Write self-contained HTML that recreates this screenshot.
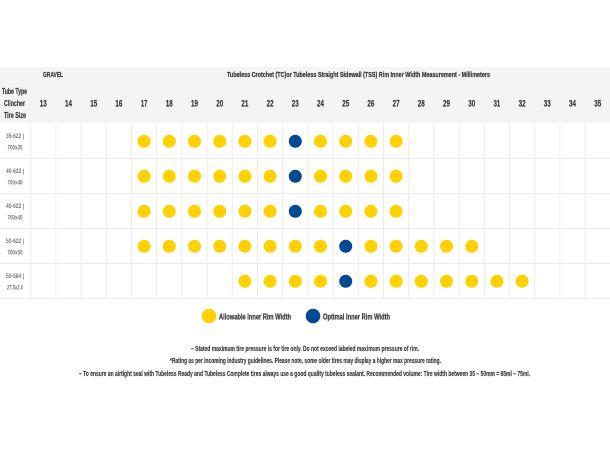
<!DOCTYPE html>
<html>
<head>
<meta charset="utf-8">
<style>
  html,body{margin:0;padding:0;background:#fff;}
  svg{display:block;}
  text{font-family:"Liberation Sans Narrow","Liberation Sans",sans-serif;font-weight:bold;}
  .hv{stroke:#3a3a3a;stroke-width:0.25;}
</style>
</head>
<body>
<svg width="610" height="450" viewBox="0 0 610 450" xmlns="http://www.w3.org/2000/svg">
  <rect x="0" y="0" width="610" height="450" fill="#ffffff"/>
  <!-- header band -->
  <rect x="0" y="67" width="610" height="56" fill="#f4f4f4"/>

  <!-- header texts -->
  <text class="hv" x="43" y="77" font-size="7.5" fill="#3a3a3a" textLength="20" lengthAdjust="spacingAndGlyphs">GRAVEL</text>
  <text class="hv" x="227" y="77" font-size="7.5" fill="#3a3a3a" textLength="263" lengthAdjust="spacingAndGlyphs">Tubeless Crotchet (TC)or Tubeless Straight Sidewall (TSS) Rim Inner Width Measurement - Millimeters</text>

  <text class="hv" x="2" y="94" font-size="8.5" fill="#3a3a3a" textLength="25" lengthAdjust="spacingAndGlyphs">Tube Type</text>
  <text class="hv" x="4" y="106" font-size="8.5" fill="#3a3a3a" textLength="21" lengthAdjust="spacingAndGlyphs">Clincher</text>
  <text class="hv" x="4" y="118" font-size="8.5" fill="#3a3a3a" textLength="22" lengthAdjust="spacingAndGlyphs">Tire Size</text>

  <!-- column numbers -->
  <g class="hv" font-size="9" fill="#3a3a3a" text-anchor="middle">
    <text x="43.3" y="106.5" textLength="7" lengthAdjust="spacingAndGlyphs">13</text>
    <text x="68.5" y="106.5" textLength="7" lengthAdjust="spacingAndGlyphs">14</text>
    <text x="93.7" y="106.5" textLength="7" lengthAdjust="spacingAndGlyphs">15</text>
    <text x="118.9" y="106.5" textLength="7" lengthAdjust="spacingAndGlyphs">16</text>
    <text x="144.1" y="106.5" textLength="6.5" lengthAdjust="spacingAndGlyphs">17</text>
    <text x="169.3" y="106.5" textLength="7" lengthAdjust="spacingAndGlyphs">18</text>
    <text x="194.5" y="106.5" textLength="7" lengthAdjust="spacingAndGlyphs">19</text>
    <text x="219.7" y="106.5" textLength="7" lengthAdjust="spacingAndGlyphs">20</text>
    <text x="244.9" y="106.5" textLength="7" lengthAdjust="spacingAndGlyphs">21</text>
    <text x="270.1" y="106.5" textLength="7" lengthAdjust="spacingAndGlyphs">22</text>
    <text x="295.3" y="106.5" textLength="7" lengthAdjust="spacingAndGlyphs">23</text>
    <text x="320.5" y="106.5" textLength="7" lengthAdjust="spacingAndGlyphs">24</text>
    <text x="345.7" y="106.5" textLength="7" lengthAdjust="spacingAndGlyphs">25</text>
    <text x="370.9" y="106.5" textLength="7" lengthAdjust="spacingAndGlyphs">26</text>
    <text x="396.1" y="106.5" textLength="7" lengthAdjust="spacingAndGlyphs">27</text>
    <text x="421.3" y="106.5" textLength="7" lengthAdjust="spacingAndGlyphs">28</text>
    <text x="446.5" y="106.5" textLength="7" lengthAdjust="spacingAndGlyphs">29</text>
    <text x="471.7" y="106.5" textLength="7" lengthAdjust="spacingAndGlyphs">30</text>
    <text x="496.9" y="106.5" textLength="6.5" lengthAdjust="spacingAndGlyphs">31</text>
    <text x="522.1" y="106.5" textLength="7" lengthAdjust="spacingAndGlyphs">32</text>
    <text x="547.3" y="106.5" textLength="7" lengthAdjust="spacingAndGlyphs">33</text>
    <text x="572.5" y="106.5" textLength="7" lengthAdjust="spacingAndGlyphs">34</text>
    <text x="597.7" y="106.5" textLength="7" lengthAdjust="spacingAndGlyphs">35</text>
  </g>

  <!-- grid lines -->
  <g stroke="#ececec" stroke-width="1">
    <line x1="0" y1="158.5" x2="610" y2="158.5"/>
    <line x1="0" y1="193.5" x2="610" y2="193.5"/>
    <line x1="0" y1="228.5" x2="610" y2="228.5"/>
    <line x1="0" y1="263.5" x2="610" y2="263.5"/>
    <line x1="0" y1="298.5" x2="610" y2="298.5"/>
    <line x1="30.7" y1="123" x2="30.7" y2="298"/>
    <line x1="55.9" y1="123" x2="55.9" y2="298"/>
    <line x1="81.1" y1="123" x2="81.1" y2="298"/>
    <line x1="106.3" y1="123" x2="106.3" y2="298"/>
    <line x1="131.5" y1="123" x2="131.5" y2="298"/>
    <line x1="156.7" y1="123" x2="156.7" y2="298"/>
    <line x1="181.9" y1="123" x2="181.9" y2="298"/>
    <line x1="207.1" y1="123" x2="207.1" y2="298"/>
    <line x1="232.3" y1="123" x2="232.3" y2="298"/>
    <line x1="257.5" y1="123" x2="257.5" y2="298"/>
    <line x1="282.7" y1="123" x2="282.7" y2="298"/>
    <line x1="307.9" y1="123" x2="307.9" y2="298"/>
    <line x1="333.1" y1="123" x2="333.1" y2="298"/>
    <line x1="358.3" y1="123" x2="358.3" y2="298"/>
    <line x1="383.5" y1="123" x2="383.5" y2="298"/>
    <line x1="408.7" y1="123" x2="408.7" y2="298"/>
    <line x1="433.9" y1="123" x2="433.9" y2="298"/>
    <line x1="459.1" y1="123" x2="459.1" y2="298"/>
    <line x1="484.3" y1="123" x2="484.3" y2="298"/>
    <line x1="509.5" y1="123" x2="509.5" y2="298"/>
    <line x1="534.7" y1="123" x2="534.7" y2="298"/>
    <line x1="559.9" y1="123" x2="559.9" y2="298"/>
    <line x1="585.1" y1="123" x2="585.1" y2="298"/>
  </g>

  <!-- row labels -->
  <g font-size="6.5" fill="#777" text-anchor="middle" style="font-weight:normal">
    <text x="15" y="138" textLength="18" lengthAdjust="spacingAndGlyphs">35-622 |</text>
    <text x="15" y="149.5" textLength="15" lengthAdjust="spacingAndGlyphs">700x35</text>
    <text x="15" y="173" textLength="18" lengthAdjust="spacingAndGlyphs">40-622 |</text>
    <text x="15" y="184.5" textLength="15" lengthAdjust="spacingAndGlyphs">700x40</text>
    <text x="15" y="208" textLength="18" lengthAdjust="spacingAndGlyphs">45-622 |</text>
    <text x="15" y="219.5" textLength="15" lengthAdjust="spacingAndGlyphs">700x45</text>
    <text x="15" y="243" textLength="18" lengthAdjust="spacingAndGlyphs">50-622 |</text>
    <text x="15" y="254.5" textLength="15" lengthAdjust="spacingAndGlyphs">700x50</text>
    <text x="15" y="278" textLength="18" lengthAdjust="spacingAndGlyphs">50-584 |</text>
    <text x="15" y="289.5" textLength="16" lengthAdjust="spacingAndGlyphs">27.5x2.0</text>
  </g>

  <!-- dots -->
  <g fill="#ffd100">
    <circle cx="144.1" cy="141.3" r="6.5"/><circle cx="169.3" cy="141.3" r="6.5"/><circle cx="194.5" cy="141.3" r="6.5"/>
    <circle cx="219.7" cy="141.3" r="6.5"/><circle cx="244.9" cy="141.3" r="6.5"/><circle cx="270.1" cy="141.3" r="6.5"/>
    <circle cx="320.5" cy="141.3" r="6.5"/><circle cx="345.7" cy="141.3" r="6.5"/><circle cx="370.9" cy="141.3" r="6.5"/><circle cx="396.1" cy="141.3" r="6.5"/>
    <circle cx="144.1" cy="176.3" r="6.5"/><circle cx="169.3" cy="176.3" r="6.5"/><circle cx="194.5" cy="176.3" r="6.5"/>
    <circle cx="219.7" cy="176.3" r="6.5"/><circle cx="244.9" cy="176.3" r="6.5"/><circle cx="270.1" cy="176.3" r="6.5"/>
    <circle cx="320.5" cy="176.3" r="6.5"/><circle cx="345.7" cy="176.3" r="6.5"/><circle cx="370.9" cy="176.3" r="6.5"/><circle cx="396.1" cy="176.3" r="6.5"/>
    <circle cx="144.1" cy="211.3" r="6.5"/><circle cx="169.3" cy="211.3" r="6.5"/><circle cx="194.5" cy="211.3" r="6.5"/>
    <circle cx="219.7" cy="211.3" r="6.5"/><circle cx="244.9" cy="211.3" r="6.5"/><circle cx="270.1" cy="211.3" r="6.5"/>
    <circle cx="320.5" cy="211.3" r="6.5"/><circle cx="345.7" cy="211.3" r="6.5"/><circle cx="370.9" cy="211.3" r="6.5"/><circle cx="396.1" cy="211.3" r="6.5"/>
    <circle cx="144.1" cy="246.3" r="6.5"/><circle cx="169.3" cy="246.3" r="6.5"/><circle cx="194.5" cy="246.3" r="6.5"/>
    <circle cx="219.7" cy="246.3" r="6.5"/><circle cx="244.9" cy="246.3" r="6.5"/><circle cx="270.1" cy="246.3" r="6.5"/>
    <circle cx="295.3" cy="246.3" r="6.5"/><circle cx="320.5" cy="246.3" r="6.5"/>
    <circle cx="370.9" cy="246.3" r="6.5"/><circle cx="396.1" cy="246.3" r="6.5"/><circle cx="421.3" cy="246.3" r="6.5"/>
    <circle cx="446.5" cy="246.3" r="6.5"/><circle cx="471.7" cy="246.3" r="6.5"/>
    <circle cx="244.9" cy="281.3" r="6.5"/><circle cx="270.1" cy="281.3" r="6.5"/>
    <circle cx="295.3" cy="281.3" r="6.5"/><circle cx="320.5" cy="281.3" r="6.5"/>
    <circle cx="370.9" cy="281.3" r="6.5"/><circle cx="396.1" cy="281.3" r="6.5"/><circle cx="421.3" cy="281.3" r="6.5"/>
    <circle cx="446.5" cy="281.3" r="6.5"/><circle cx="471.7" cy="281.3" r="6.5"/><circle cx="496.9" cy="281.3" r="6.5"/><circle cx="522.1" cy="281.3" r="6.5"/>
  </g>
  <g fill="#004a94">
    <circle cx="295.3" cy="141.3" r="6.5"/>
    <circle cx="295.3" cy="176.3" r="6.5"/>
    <circle cx="295.3" cy="211.3" r="6.5"/>
    <circle cx="345.7" cy="246.3" r="6.5"/>
    <circle cx="345.7" cy="281.3" r="6.5"/>
  </g>

  <!-- legend -->
  <circle cx="209" cy="316" r="7.3" fill="#ffd100"/>
  <text class="hv" x="219" y="319.3" font-size="8.5" fill="#3a3a3a" textLength="72" lengthAdjust="spacingAndGlyphs">Allowable Inner Rim Width</text>
  <circle cx="313" cy="316" r="7.3" fill="#004a94"/>
  <text class="hv" x="323" y="319.3" font-size="8.5" fill="#3a3a3a" textLength="67" lengthAdjust="spacingAndGlyphs">Optimal Inner Rim Width</text>

  <!-- footnotes -->
  <g font-size="7" fill="#3a3a3a" style="stroke:#3a3a3a;stroke-width:0.15">
    <text x="191" y="350.8" textLength="228" lengthAdjust="spacingAndGlyphs">– Stated maximum tire pressure is for tire only. Do not exceed labeled maximum pressure of rim.</text>
    <text x="170" y="363.2" textLength="271" lengthAdjust="spacingAndGlyphs">*Rating as per incoming industry guidelines. Please note, some older tires may display a higher max pressure rating.</text>
    <text x="79" y="375.8" textLength="451" lengthAdjust="spacingAndGlyphs">– To ensure an airtight seal with Tubeless Ready and Tubeless Complete tires always use a good quality tubeless sealant. Recommended volume: Tire width between 35 – 50mm = 65ml – 75ml.</text>
  </g>
</svg>
</body>
</html>
